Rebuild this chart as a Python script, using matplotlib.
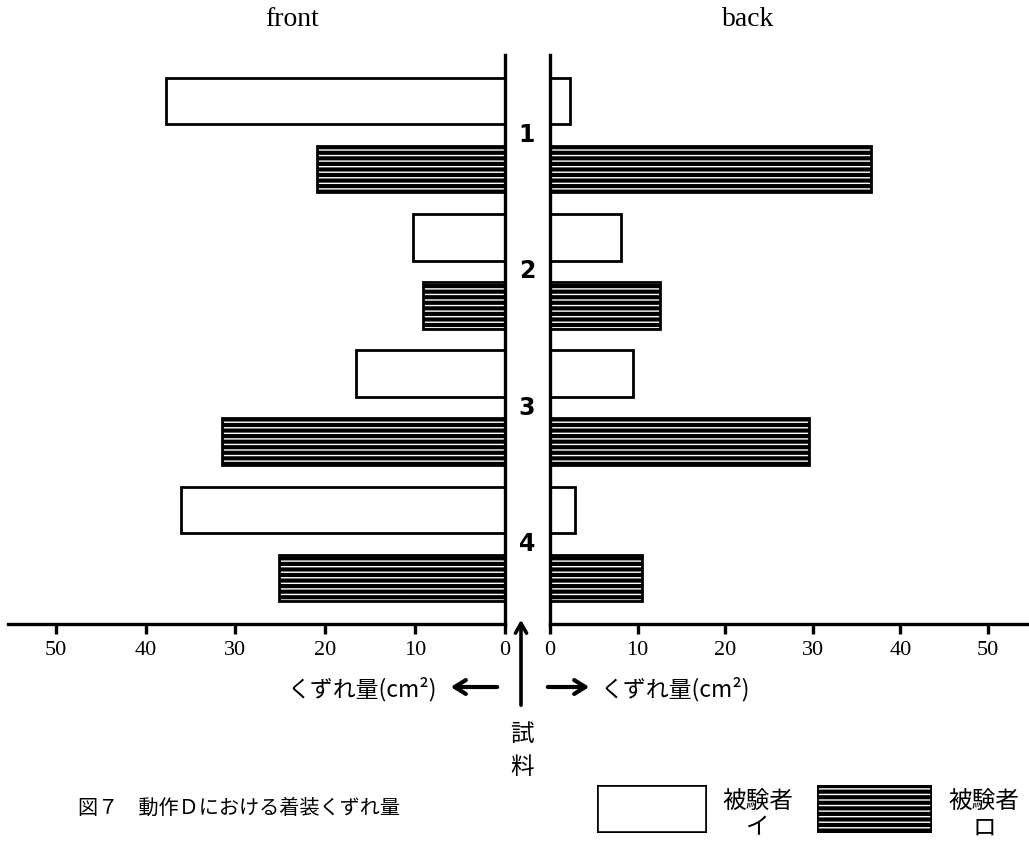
import numpy as np
import matplotlib
matplotlib.use("Agg")
import matplotlib.pyplot as plt
import matplotlib.transforms as mtransforms
from matplotlib.patches import FancyArrowPatch

plt.rcParams['font.family'] = ['Noto Sans CJK JP', 'DejaVu Sans']
plt.rcParams['hatch.linewidth'] = 3.0

# data (cm^2)
samples = ['1', '2', '3', '4']
front_i = [37.7, 10.2, 16.6, 36.1]   # 被験者イ
front_ro = [20.9, 9.1, 31.5, 25.1]   # 被験者ロ
back_i = [2.3, 8.1, 9.5, 2.9]
back_ro = [36.7, 12.6, 29.6, 10.5]
ticks = [0, 10, 20, 30, 40, 50]

fig = plt.figure(figsize=(10.29, 8.42), dpi=100)
W, H = 1029, 842

def box(x0, x1, y_top, y_bot):
    return [x0 / W, (H - y_bot) / H, (x1 - x0) / W, (y_bot - y_top) / H]

def fx(x):
    return x / W

def fy(y):
    return 1 - y / H

ax_l = fig.add_axes(box(8, 505, 55, 624))
ax_r = fig.add_axes(box(550, 1029, 55, 624))

pos_i = np.arange(len(samples)) * 2
pos_ro = pos_i + 1
h = 0.68

for ax, vi, vro in [(ax_l, front_i, front_ro), (ax_r, back_i, back_ro)]:
    ax.barh(pos_i, vi, height=h, color='white', edgecolor='black', linewidth=2.0)
    ax.barh(pos_ro, vro, height=h, color='white', edgecolor='black', linewidth=2.0,
            hatch='---')
    ax.set_ylim(7.68, -0.68)
    ax.set_yticks([])
    ax.set_xticks(ticks)
    ax.set_xticklabels([str(t) for t in ticks], family='Liberation Serif', fontsize=16)
    ax.tick_params(axis='x', direction='out', length=7, width=2.4, pad=5)
    ax.spines['top'].set_visible(False)
    ax.spines['bottom'].set_linewidth(2.4)

ax_l.set_xlim(55.3, 0)
ax_l.spines['left'].set_visible(False)
ax_l.spines['right'].set_linewidth(2.4)
ax_r.set_xlim(0, 54.7)
ax_r.spines['right'].set_visible(False)
ax_r.spines['left'].set_linewidth(2.4)

# sample numbers in the centre strip
trans = mtransforms.blended_transform_factory(fig.transFigure, ax_l.transData)
for k, s in enumerate(samples):
    fig.text(fx(527), (pos_i[k] + pos_ro[k]) / 2, s, transform=trans, ha='center',
             va='center', fontsize=17, fontweight='bold', family='DejaVu Sans')

fig.text(fx(292), fy(20), 'front', family='Liberation Serif', fontsize=20,
         ha='center', va='center')
fig.text(fx(748), fy(20), 'back', family='Liberation Serif', fontsize=20,
         ha='center', va='center')

# centre arrow and 試料
fig.add_artist(FancyArrowPatch((fx(521), fy(708)), (fx(521), fy(617)),
                               transform=fig.transFigure,
                               arrowstyle='->,head_length=7,head_width=4',
                               linewidth=2.6, color='black'))
fig.text(fx(522), fy(734), '試', fontsize=17, ha='center', va='center')
fig.text(fx(522), fy(767), '料', fontsize=17, ha='center', va='center')

# くずれ量 labels with side arrows
fig.text(fx(437), fy(689), 'くずれ量(cm²)', fontsize=16.5, ha='right', va='center')
fig.add_artist(FancyArrowPatch((fx(500), fy(687)), (fx(448), fy(687)),
                               transform=fig.transFigure,
                               arrowstyle='->,head_length=8,head_width=5',
                               linewidth=3.0, color='black'))
fig.add_artist(FancyArrowPatch((fx(545), fy(687)), (fx(592), fy(687)),
                               transform=fig.transFigure,
                               arrowstyle='->,head_length=8,head_width=5',
                               linewidth=3.0, color='black'))
fig.text(fx(601), fy(689), 'くずれ量(cm²)', fontsize=16.5, ha='left', va='center')

fig.text(fx(78), fy(808), '図７　動作Ｄにおける着装くずれ量', fontsize=14.5,
         ha='left', va='center')

# legend boxes
leg_w = fig.add_axes(box(597, 707, 785, 833))
leg_w.barh([0], [1], height=1, color='white', edgecolor='black', linewidth=2.6)
leg_h = fig.add_axes(box(817, 932, 785, 833))
leg_h.barh([0], [1], height=1, color='white', edgecolor='black', linewidth=2.6,
           hatch='---')
for a in (leg_w, leg_h):
    a.set_xlim(0, 1)
    a.set_ylim(-0.5, 0.5)
    a.axis('off')
fig.text(fx(758), fy(802), '被験者', fontsize=17, ha='center', va='center')
fig.text(fx(758), fy(828), 'イ', fontsize=17, ha='center', va='center')
fig.text(fx(984), fy(802), '被験者', fontsize=17, ha='center', va='center')
fig.text(fx(984), fy(828), 'ロ', fontsize=17, ha='center', va='center')

fig.savefig('out.png', dpi=100)
